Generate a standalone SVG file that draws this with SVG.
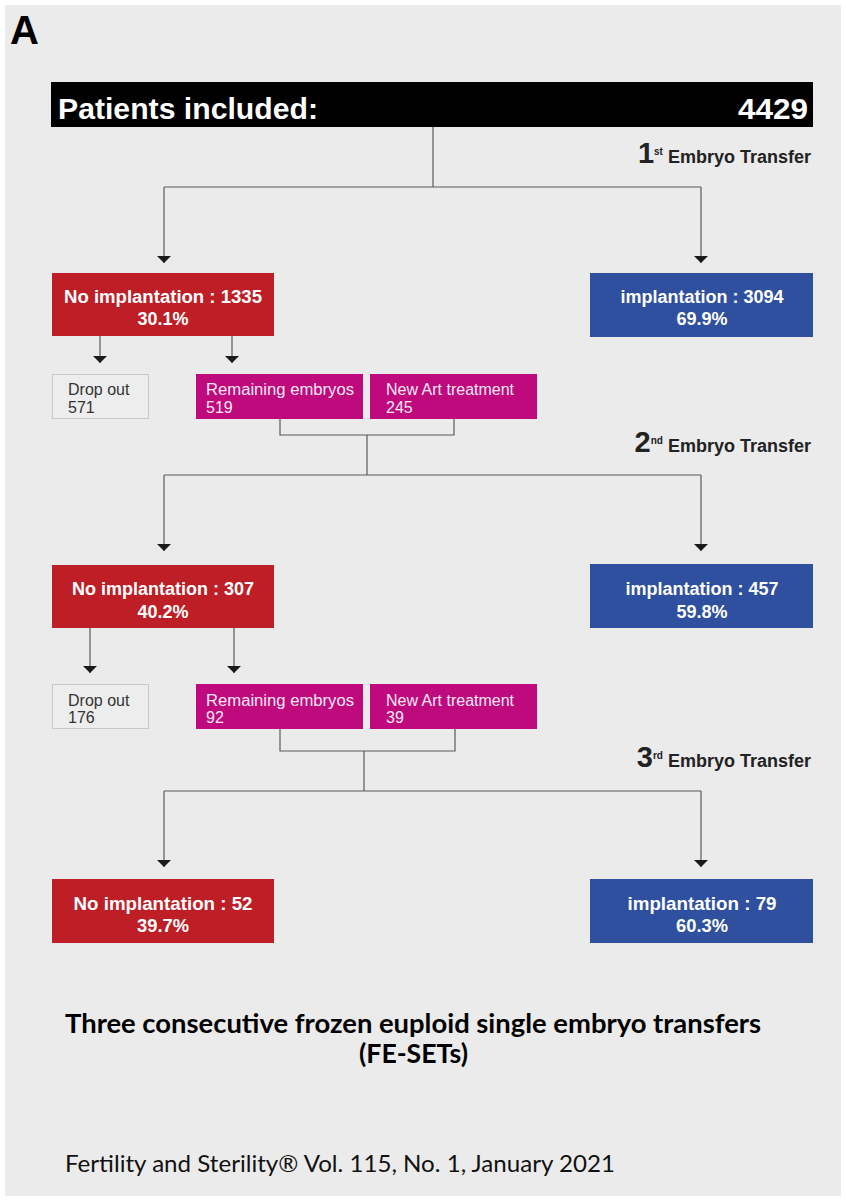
<svg xmlns="http://www.w3.org/2000/svg" width="846" height="1201" viewBox="0 0 846 1201">
<style>
.ln{stroke:#5a5a5a;stroke-width:1.2;fill:none}
.red{fill:#be1e26}
.blue{fill:#2f4f9f}
.mag{fill:#be0a7d}
.drop{fill:#ededed;stroke:#c8c8c8;stroke-width:1}
.bt{font-family:"Liberation Sans",Arial,sans-serif;font-weight:bold;font-size:18px;fill:#ffffff;text-anchor:middle}
.bt3{font-family:"Liberation Sans",Arial,sans-serif;font-weight:bold;font-size:19px;fill:#ffffff;text-anchor:middle}
.mt{font-family:"Liberation Sans",Arial,sans-serif;font-size:16px;fill:#fbe8f3}
.dt{font-family:"Liberation Sans",Arial,sans-serif;font-size:16px;fill:#333333}
.et{font-family:"Liberation Sans",Arial,sans-serif;font-weight:bold;font-size:18px;fill:#222222;text-anchor:end}
.cap{font-family:Lato,"Open Sans",sans-serif;font-weight:bold;font-size:26px;fill:#000000}
</style>
<defs>
<marker id="ah" markerUnits="userSpaceOnUse" markerWidth="8" markerHeight="14" refX="7" refY="7" orient="auto">
<path d="M0,0 L7,7 L0,14 z" fill="#1a1a1a"/>
</marker>
</defs>
<rect x="0" y="0" width="846" height="1201" fill="#ffffff"/>
<rect x="5" y="5" width="836" height="1191" fill="#ebebeb"/>
<text x="10" y="44" font-family="Liberation Sans, Arial, sans-serif" font-weight="bold" font-size="40" fill="#000">A</text>

<g id="connectors">
<line class="ln" x1="433" y1="127" x2="433" y2="187"/>
<line class="ln" x1="164" y1="187" x2="701" y2="187"/>
<line class="ln" x1="164" y1="187" x2="164" y2="263" marker-end="url(#ah)"/>
<line class="ln" x1="701" y1="187" x2="701" y2="263" marker-end="url(#ah)"/>
<line class="ln" x1="100" y1="336" x2="100" y2="363" marker-end="url(#ah)"/>
<line class="ln" x1="232" y1="336" x2="232" y2="363" marker-end="url(#ah)"/>
<polyline class="ln" points="280,419 280,435 454,435 454,419"/>
<line class="ln" x1="367" y1="435" x2="367" y2="475"/>
<line class="ln" x1="164" y1="475" x2="701" y2="475"/>
<line class="ln" x1="164" y1="475" x2="164" y2="551" marker-end="url(#ah)"/>
<line class="ln" x1="701" y1="475" x2="701" y2="551" marker-end="url(#ah)"/>
<line class="ln" x1="90" y1="628" x2="90" y2="673" marker-end="url(#ah)"/>
<line class="ln" x1="234" y1="628" x2="234" y2="673" marker-end="url(#ah)"/>
<polyline class="ln" points="280,729 280,751 455,751 455,729"/>
<line class="ln" x1="364" y1="751" x2="364" y2="791"/>
<line class="ln" x1="164" y1="791" x2="701" y2="791"/>
<line class="ln" x1="164" y1="791" x2="164" y2="867" marker-end="url(#ah)"/>
<line class="ln" x1="701" y1="791" x2="701" y2="867" marker-end="url(#ah)"/>
</g>

<g id="patients">
<rect x="51" y="82" width="762" height="45" fill="#000"/>
<text x="58" y="119" font-family="Liberation Sans, Arial, sans-serif" font-weight="bold" font-size="30" fill="#fff" textLength="260" lengthAdjust="spacingAndGlyphs">Patients included:</text>
<text x="808" y="119" font-family="Liberation Sans, Arial, sans-serif" font-weight="bold" font-size="30" fill="#fff" text-anchor="end" textLength="70" lengthAdjust="spacingAndGlyphs">4429</text>
</g>

<g id="et1"><text class="et" x="811" y="163"><tspan font-size="29">1</tspan><tspan font-size="10" dy="-8">st</tspan><tspan dy="8"> Embryo Transfer</tspan></text></g>
<g id="et2"><text class="et" x="811" y="452"><tspan font-size="29">2</tspan><tspan font-size="10" dy="-8">nd</tspan><tspan dy="8"> Embryo Transfer</tspan></text></g>
<g id="et3"><text class="et" x="811" y="767"><tspan font-size="29">3</tspan><tspan font-size="10" dy="-8">rd</tspan><tspan dy="8"> Embryo Transfer</tspan></text></g>

<g id="noimp1"><rect class="red" x="52" y="273" width="222" height="63"/>
<text class="bt" x="163" y="303" textLength="198" lengthAdjust="spacingAndGlyphs">No implantation : 1335</text>
<text class="bt" x="163" y="325">30.1%</text></g>
<g id="imp1"><rect class="blue" x="590" y="273" width="223" height="64"/>
<text class="bt" x="702" y="303">implantation : 3094</text>
<text class="bt" x="702" y="325">69.9%</text></g>

<g id="drop1"><rect class="drop" x="52.5" y="374.5" width="96" height="44"/>
<text class="dt" x="68" y="395">Drop out</text><text class="dt" x="68" y="413">571</text></g>
<g id="rem1"><rect class="mag" x="196" y="374" width="167" height="45"/>
<text class="mt" x="206" y="395" textLength="148" lengthAdjust="spacingAndGlyphs">Remaining embryos</text><text class="mt" x="206" y="413">519</text></g>
<g id="new1"><rect class="mag" x="370" y="374" width="167" height="45"/>
<text class="mt" x="386" y="395">New Art treatment</text><text class="mt" x="386" y="413">245</text></g>

<g id="noimp2"><rect class="red" x="52" y="565" width="222" height="63"/>
<text class="bt" x="163" y="595">No implantation : 307</text>
<text class="bt" x="163" y="618">40.2%</text></g>
<g id="imp2"><rect class="blue" x="590" y="564" width="223" height="64"/>
<text class="bt" x="702" y="595">implantation : 457</text>
<text class="bt" x="702" y="618">59.8%</text></g>

<g id="drop2"><rect class="drop" x="52.5" y="684.5" width="96" height="44"/>
<text class="dt" x="68" y="706">Drop out</text><text class="dt" x="68" y="723">176</text></g>
<g id="rem2"><rect class="mag" x="196" y="684" width="167" height="45"/>
<text class="mt" x="206" y="706" textLength="148" lengthAdjust="spacingAndGlyphs">Remaining embryos</text><text class="mt" x="206" y="723">92</text></g>
<g id="new2"><rect class="mag" x="370" y="684" width="167" height="45"/>
<text class="mt" x="386" y="706">New Art treatment</text><text class="mt" x="386" y="723">39</text></g>

<g id="noimp3"><rect class="red" x="52" y="879" width="222" height="64"/>
<text class="bt3" x="163" y="910" textLength="179" lengthAdjust="spacingAndGlyphs">No implantation : 52</text>
<text class="bt3" x="163" y="932" textLength="52" lengthAdjust="spacingAndGlyphs">39.7%</text></g>
<g id="imp3"><rect class="blue" x="590" y="879" width="223" height="64"/>
<text class="bt3" x="702" y="910" textLength="149" lengthAdjust="spacingAndGlyphs">implantation : 79</text>
<text class="bt3" x="702" y="932" textLength="52" lengthAdjust="spacingAndGlyphs">60.3%</text></g>

<g id="caption">
<text class="cap" x="65" y="1033" textLength="696" lengthAdjust="spacingAndGlyphs">Three consecutive frozen euploid single embryo transfers</text>
<text class="cap" x="359" y="1063" textLength="109" lengthAdjust="spacingAndGlyphs">(FE-SETs)</text>
<text x="65" y="1172" font-family="Lato, 'Open Sans', sans-serif" font-size="23" fill="#111" textLength="550" lengthAdjust="spacingAndGlyphs">Fertility and Sterility® Vol. 115, No. 1, January 2021</text>
</g>
</svg>
